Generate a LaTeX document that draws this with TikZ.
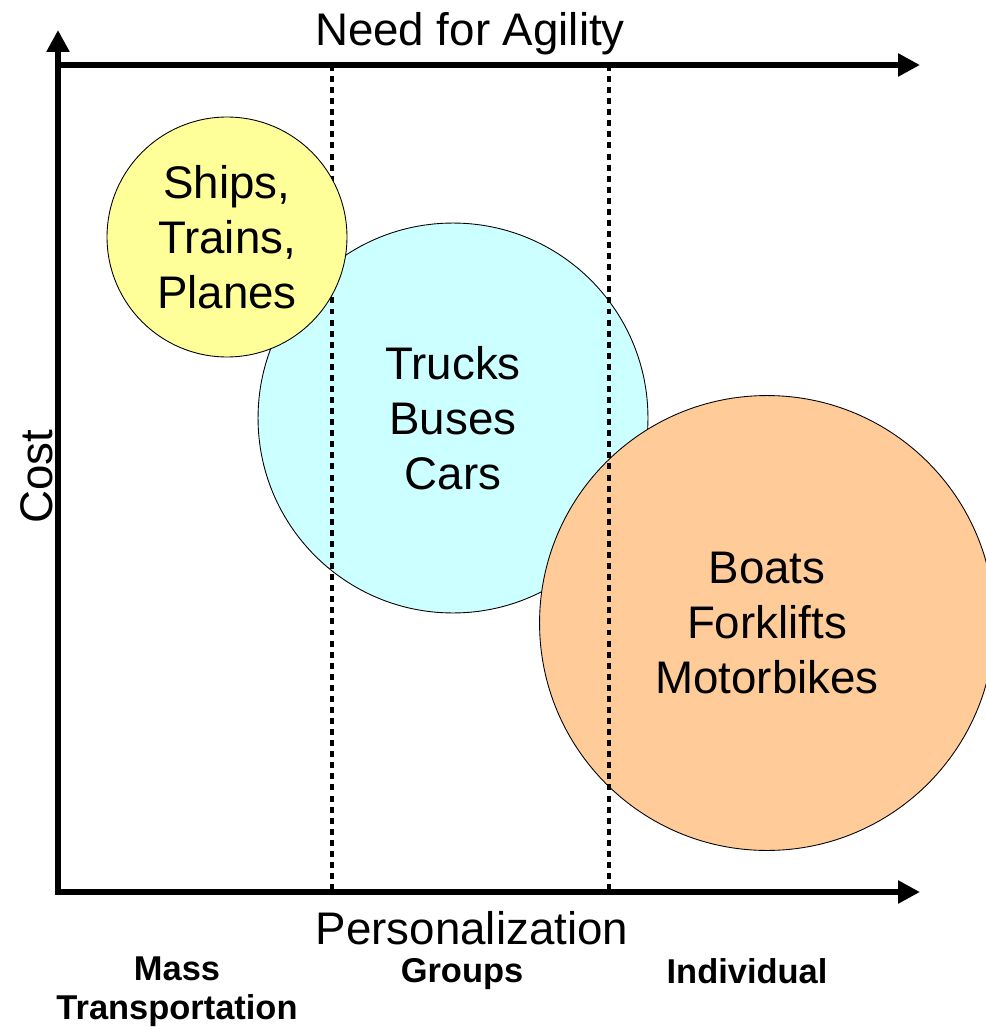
\documentclass[tikz,border=0pt]{standalone}
\usepackage{fontspec}
\setmainfont{Liberation Sans}
\usepackage{tikz}
\usetikzlibrary{positioning,arrows.meta}

\definecolor{bubYellow}{HTML}{FFFF99}
\definecolor{bubCyan}{HTML}{CCFFFF}
\definecolor{bubOrange}{HTML}{FFCC99}

\tikzset{
  axisline/.style={line width=3.4pt,line join=miter},
  divider/.style={line width=1.9pt,dash pattern=on 3.4pt off 2.9pt},
  bubble/.style={circle,draw,line width=0.5pt,inner sep=0pt,align=center,
    font=\fontsize{26}{31.3}\selectfont},
  axislabel/.style={font=\fontsize{26}{31.3}\selectfont,inner sep=0pt},
  classlabel/.style={font=\fontsize{19.6}{22.2}\selectfont\bfseries,
    inner sep=0pt,align=center,anchor=north}
}

\begin{document}
\begin{tikzpicture}[x=0.02cm,y=-0.02cm,>={Triangle[length=0.44cm,width=0.44cm]}]
  \useasboundingbox (0,0) rectangle (986,1027);

  \coordinate (Origin)  at (58,892);
  \coordinate (CostTip) at (58,30);
  \coordinate (PersTip) at (920,892);
  \coordinate (AgilL)   at (58,65);
  \coordinate (AgilTip) at (920,65);
  \coordinate (DivAT)   at (332,65);
  \coordinate (DivAB)   at (332,892);
  \coordinate (DivBT)   at (609,65);
  \coordinate (DivBB)   at (609,892);

  \node[bubble,fill=bubCyan,minimum size=7.8cm]   (Trucks) at (453,418) {Trucks\\Buses\\Cars};
  \node[bubble,fill=bubOrange,minimum size=9.1cm] (Boats)  at (767,623) {Boats\\Forklifts\\Motorbikes};

  \path[divider]
    (DivAT) edge (DivAB)
    (DivBT) edge (DivBB);

  \node[bubble,fill=bubYellow,minimum size=4.8cm] (Ships)  at (227,237) {Ships,\\Trains,\\Planes};

  \draw[axisline,<->] (CostTip) -- (Origin) -- (PersTip);
  \draw[axisline,->]  (AgilL) -- (AgilTip);

  \node[axislabel,anchor=base]           (Agility) at (470,46)  {Need for Agility};
  \node[axislabel,anchor=base]           (Pers)    at (472,944) {Personalization};
  \node[axislabel,anchor=base,rotate=90] (Cost)    at (52,477)  {Cost};

  \node[classlabel] (Mass)  at (177,956) {Mass\\Transportation};
  \node[classlabel] (Group) at (462,958) {Groups};
  \node[classlabel] (Indiv) at (747,958) {Individual};
\end{tikzpicture}
\end{document}
